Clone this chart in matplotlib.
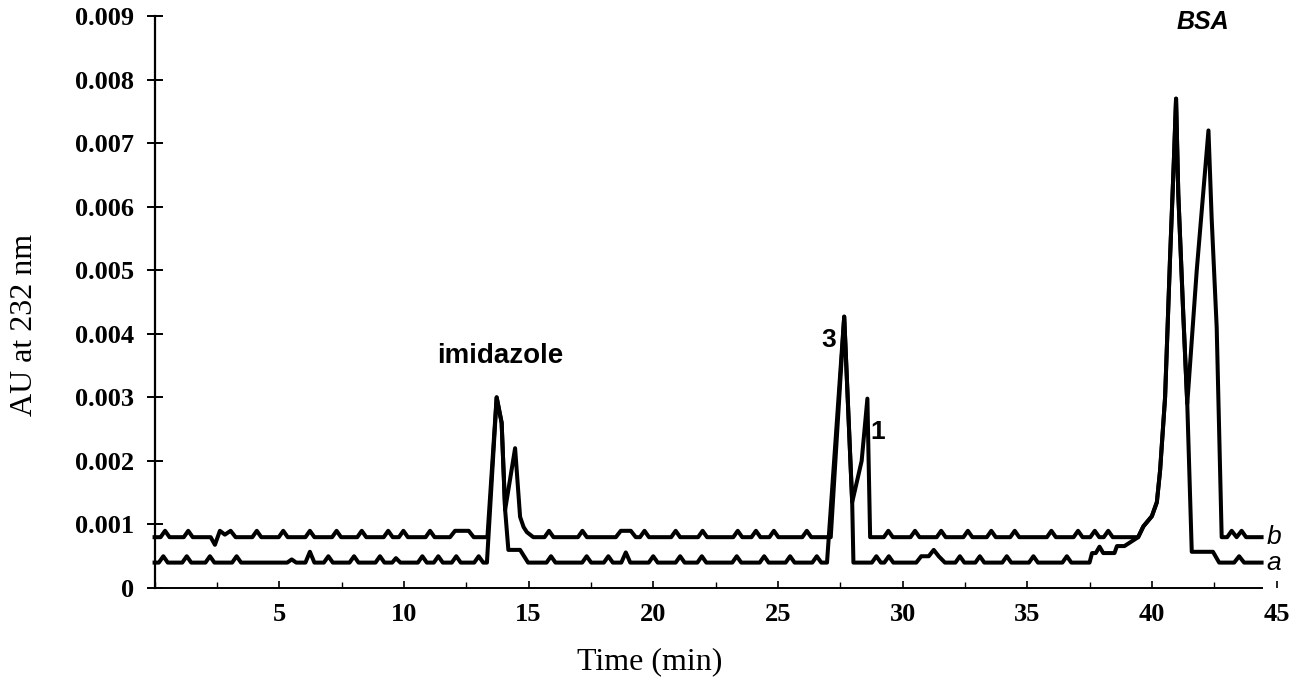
import matplotlib
matplotlib.use('Agg')
import matplotlib.pyplot as plt
from matplotlib.ticker import MultipleLocator

# chromatogram traces, (time in min, AU at 232 nm)
trace_b = [
    (0.0, 0.0008), (0.24, 0.0008), (0.42, 0.0009), (0.60, 0.0008),
    (1.17, 0.0008), (1.35, 0.0009), (1.53, 0.0008),
    (2.25, 0.0008), (2.42, 0.00068), (2.62, 0.0009), (2.82, 0.00084), (3.05, 0.0009), (3.25, 0.0008),
    (3.92, 0.0008), (4.10, 0.0009), (4.28, 0.0008),
    (4.98, 0.0008), (5.16, 0.0009), (5.34, 0.0008),
    (6.05, 0.0008), (6.23, 0.0009), (6.41, 0.0008),
    (7.12, 0.0008), (7.30, 0.0009), (7.48, 0.0008),
    (8.13, 0.0008), (8.31, 0.0009), (8.49, 0.0008),
    (9.19, 0.0008), (9.37, 0.0009), (9.55, 0.0008),
    (9.80, 0.0008), (9.98, 0.0009), (10.16, 0.0008),
    (10.87, 0.0008), (11.05, 0.0009), (11.23, 0.0008),
    (11.85, 0.0008), (12.05, 0.0009), (12.60, 0.0009), (12.80, 0.0008),
    (13.35, 0.0008), (13.72, 0.0030), (13.92, 0.0026), (14.06, 0.00123),
    (14.46, 0.0022), (14.66, 0.00112), (14.80, 0.00096), (14.93, 0.00088), (15.19, 0.0008),
    (15.64, 0.0008), (15.82, 0.0009), (16.00, 0.0008),
    (16.98, 0.0008), (17.16, 0.0009), (17.34, 0.0008),
    (18.50, 0.0008), (18.70, 0.0009), (19.10, 0.0009), (19.30, 0.0008),
    (19.47, 0.0008), (19.65, 0.0009), (19.83, 0.0008),
    (20.72, 0.0008), (20.90, 0.0009), (21.08, 0.0008),
    (21.80, 0.0008), (21.98, 0.0009), (22.16, 0.0008),
    (23.21, 0.0008), (23.39, 0.0009), (23.57, 0.0008),
    (23.94, 0.0008), (24.12, 0.0009), (24.30, 0.0008),
    (24.66, 0.0008), (24.84, 0.0009), (25.02, 0.0008),
    (25.98, 0.0008), (26.16, 0.0009), (26.34, 0.0008),
    (27.12, 0.0008), (27.66, 0.00427), (27.98, 0.00135),
    (28.36, 0.0020), (28.59, 0.00298), (28.70, 0.0008),
    (29.25, 0.0008), (29.43, 0.0009), (29.61, 0.0008),
    (30.32, 0.0008), (30.50, 0.0009), (30.68, 0.0008),
    (31.37, 0.0008), (31.55, 0.0009), (31.73, 0.0008),
    (32.44, 0.0008), (32.62, 0.0009), (32.80, 0.0008),
    (33.38, 0.0008), (33.56, 0.0009), (33.74, 0.0008),
    (34.32, 0.0008), (34.50, 0.0009), (34.68, 0.0008),
    (35.79, 0.0008), (35.97, 0.0009), (36.15, 0.0008),
    (36.86, 0.0008), (37.04, 0.0009), (37.22, 0.0008),
    (37.53, 0.0008), (37.71, 0.0009), (37.89, 0.0008),
    (38.07, 0.0008), (38.25, 0.0009), (38.43, 0.0008),
    (39.45, 0.0008),
]

trace_a = [
    (0.0, 0.0004), (0.17, 0.0004), (0.35, 0.0005), (0.53, 0.0004),
    (1.11, 0.0004), (1.29, 0.0005), (1.47, 0.0004),
    (2.04, 0.0004), (2.22, 0.0005), (2.40, 0.0004),
    (3.11, 0.0004), (3.29, 0.0005), (3.47, 0.0004),
    (5.32, 0.0004), (5.50, 0.00045), (5.68, 0.0004),
    (6.05, 0.0004), (6.23, 0.00057), (6.41, 0.0004),
    (6.79, 0.0004), (6.97, 0.0005), (7.15, 0.0004),
    (7.82, 0.0004), (8.00, 0.0005), (8.18, 0.0004),
    (8.86, 0.0004), (9.04, 0.0005), (9.22, 0.0004),
    (9.53, 0.0004), (9.68, 0.00047), (9.86, 0.0004),
    (10.56, 0.0004), (10.74, 0.0005), (10.92, 0.0004),
    (11.20, 0.0004), (11.38, 0.0005), (11.56, 0.0004),
    (11.92, 0.0004), (12.10, 0.0005), (12.28, 0.0004),
    (12.82, 0.0004), (13.00, 0.0005), (13.18, 0.0004),
    (13.33, 0.0004), (13.72, 0.0030), (13.92, 0.0026), (14.06, 0.00123),
    (14.19, 0.0006), (14.66, 0.0006), (14.98, 0.0004),
    (15.72, 0.0004), (15.90, 0.0005), (16.08, 0.0004),
    (17.15, 0.0004), (17.33, 0.0005), (17.51, 0.0004),
    (18.02, 0.0004), (18.20, 0.0005), (18.38, 0.0004),
    (18.72, 0.0004), (18.90, 0.00056), (19.08, 0.0004),
    (19.82, 0.0004), (20.00, 0.0005), (20.18, 0.0004),
    (20.90, 0.0004), (21.08, 0.0005), (21.26, 0.0004),
    (21.77, 0.0004), (21.95, 0.0005), (22.13, 0.0004),
    (23.17, 0.0004), (23.35, 0.0005), (23.53, 0.0004),
    (24.27, 0.0004), (24.45, 0.0005), (24.63, 0.0004),
    (25.31, 0.0004), (25.49, 0.0005), (25.67, 0.0004),
    (26.38, 0.0004), (26.56, 0.0005), (26.74, 0.0004),
    (26.97, 0.0004), (27.66, 0.00427), (27.98, 0.00135), (28.03, 0.0004),
    (28.77, 0.0004), (28.95, 0.0005), (29.13, 0.0004),
    (29.27, 0.0004), (29.45, 0.0005), (29.63, 0.0004),
    (30.55, 0.0004), (30.75, 0.0005), (31.05, 0.0005), (31.25, 0.0006), (31.45, 0.0005), (31.70, 0.0004),
    (32.12, 0.0004), (32.30, 0.0005), (32.48, 0.0004),
    (32.92, 0.0004), (33.10, 0.0005), (33.28, 0.0004),
    (34.00, 0.0004), (34.18, 0.0005), (34.36, 0.0004),
    (35.07, 0.0004), (35.25, 0.0005), (35.43, 0.0004),
    (36.41, 0.0004), (36.59, 0.0005), (36.77, 0.0004),
    (37.50, 0.0004), (37.60, 0.00055), (37.75, 0.00055), (37.90, 0.00065), (38.05, 0.00055),
    (38.50, 0.00055), (38.60, 0.00066), (38.90, 0.00066), (39.45, 0.0008),
]

# BSA front, common to both runs up to the first apex and the dip after it
bsa_front = [
    (39.66, 0.00097), (40.00, 0.00113), (40.20, 0.00135), (40.33, 0.00185),
    (40.53, 0.0030), (40.73, 0.0052), (40.89, 0.0068), (40.97, 0.0077),
    (41.06, 0.0062), (41.26, 0.0043), (41.42, 0.0029),
]
bsa_tail_b = [
    (41.80, 0.0050), (42.27, 0.0072), (42.40, 0.0058), (42.60, 0.0041), (42.80, 0.0008),
    (43.02, 0.0008), (43.20, 0.0009), (43.40, 0.0008), (43.60, 0.0009), (43.78, 0.0008),
    (44.40, 0.0008),
]
bsa_tail_a = [
    (41.60, 0.00057), (42.45, 0.00057), (42.70, 0.0004),
    (43.30, 0.0004), (43.50, 0.0005), (43.70, 0.0004), (44.40, 0.0004),
]

x_ticks = [5, 10, 15, 20, 25, 30, 35, 40, 45]
y_ticks = [0, 0.001, 0.002, 0.003, 0.004, 0.005, 0.006, 0.007, 0.008, 0.009]
y_labels = ['0', '0.001', '0.002', '0.003', '0.004', '0.005', '0.006', '0.007', '0.008', '0.009']

serif = 'Liberation Serif'
sans = 'Liberation Sans'

fig = plt.figure(figsize=(12.99, 6.82), dpi=100)
ax = fig.add_axes([0.119, 0.1378, 0.8637, 0.8387])

for pts in (trace_b + bsa_front + bsa_tail_b, trace_a + bsa_front + bsa_tail_a):
    tt = [p[0] for p in pts]
    vv = [p[1] for p in pts]
    ax.plot(tt, vv, color='black', lw=2.9, solid_joinstyle='round', clip_on=False)

ax.set_xlim(0, 45)
ax.set_ylim(0, 0.009)
for s in ('top', 'right'):
    ax.spines[s].set_visible(False)
ax.spines['left'].set_linewidth(1.6)
ax.spines['bottom'].set_linewidth(1.4)
ax.spines['bottom'].set_bounds(0, 44.4)

ax.set_yticks(y_ticks)
ax.set_yticklabels(y_labels, fontfamily=serif, fontweight='bold', fontsize=19)
ax.tick_params(axis='y', direction='inout', length=11, width=1.4, pad=9)
ax.set_xticks(x_ticks)
ax.set_xticklabels([str(v) for v in x_ticks], fontfamily=serif, fontweight='bold', fontsize=19)
ax.xaxis.set_minor_locator(MultipleLocator(2.5))
ax.tick_params(axis='x', which='major', direction='in', length=5, width=1.2, pad=11)
ax.tick_params(axis='x', which='minor', direction='in', length=4, width=1.0)

fig.text(25 / 1299, 1 - 325 / 682, 'AU at 232 nm', rotation=90, ha='center', va='center',
         fontfamily=serif, fontsize=23)
fig.text(650 / 1299, 1 - 662 / 682, 'Time (min)', ha='center', va='center',
         fontfamily=serif, fontsize=23)

ax.text(13.86, 0.00365, 'imidazole', ha='center', va='center', fontfamily=sans,
        fontweight='bold', fontsize=20)
ax.text(27.02, 0.0039, '3', ha='center', va='center', fontfamily=sans, fontweight='bold', fontsize=19)
ax.text(29.0, 0.00245, '1', ha='center', va='center', fontfamily=sans, fontweight='bold', fontsize=19)
ax.text(42.05, 0.0089, 'BSA', ha='center', va='center', fontfamily=sans, fontweight='bold',
        fontstyle='italic', fontsize=18, clip_on=False)
ax.text(44.6, 0.0008, 'b', ha='left', va='center', fontfamily=sans, fontstyle='italic',
        fontsize=19, clip_on=False)
ax.text(44.6, 0.0004, 'a', ha='left', va='center', fontfamily=sans, fontstyle='italic',
        fontsize=19, clip_on=False)

fig.savefig('out.png', dpi=100)
